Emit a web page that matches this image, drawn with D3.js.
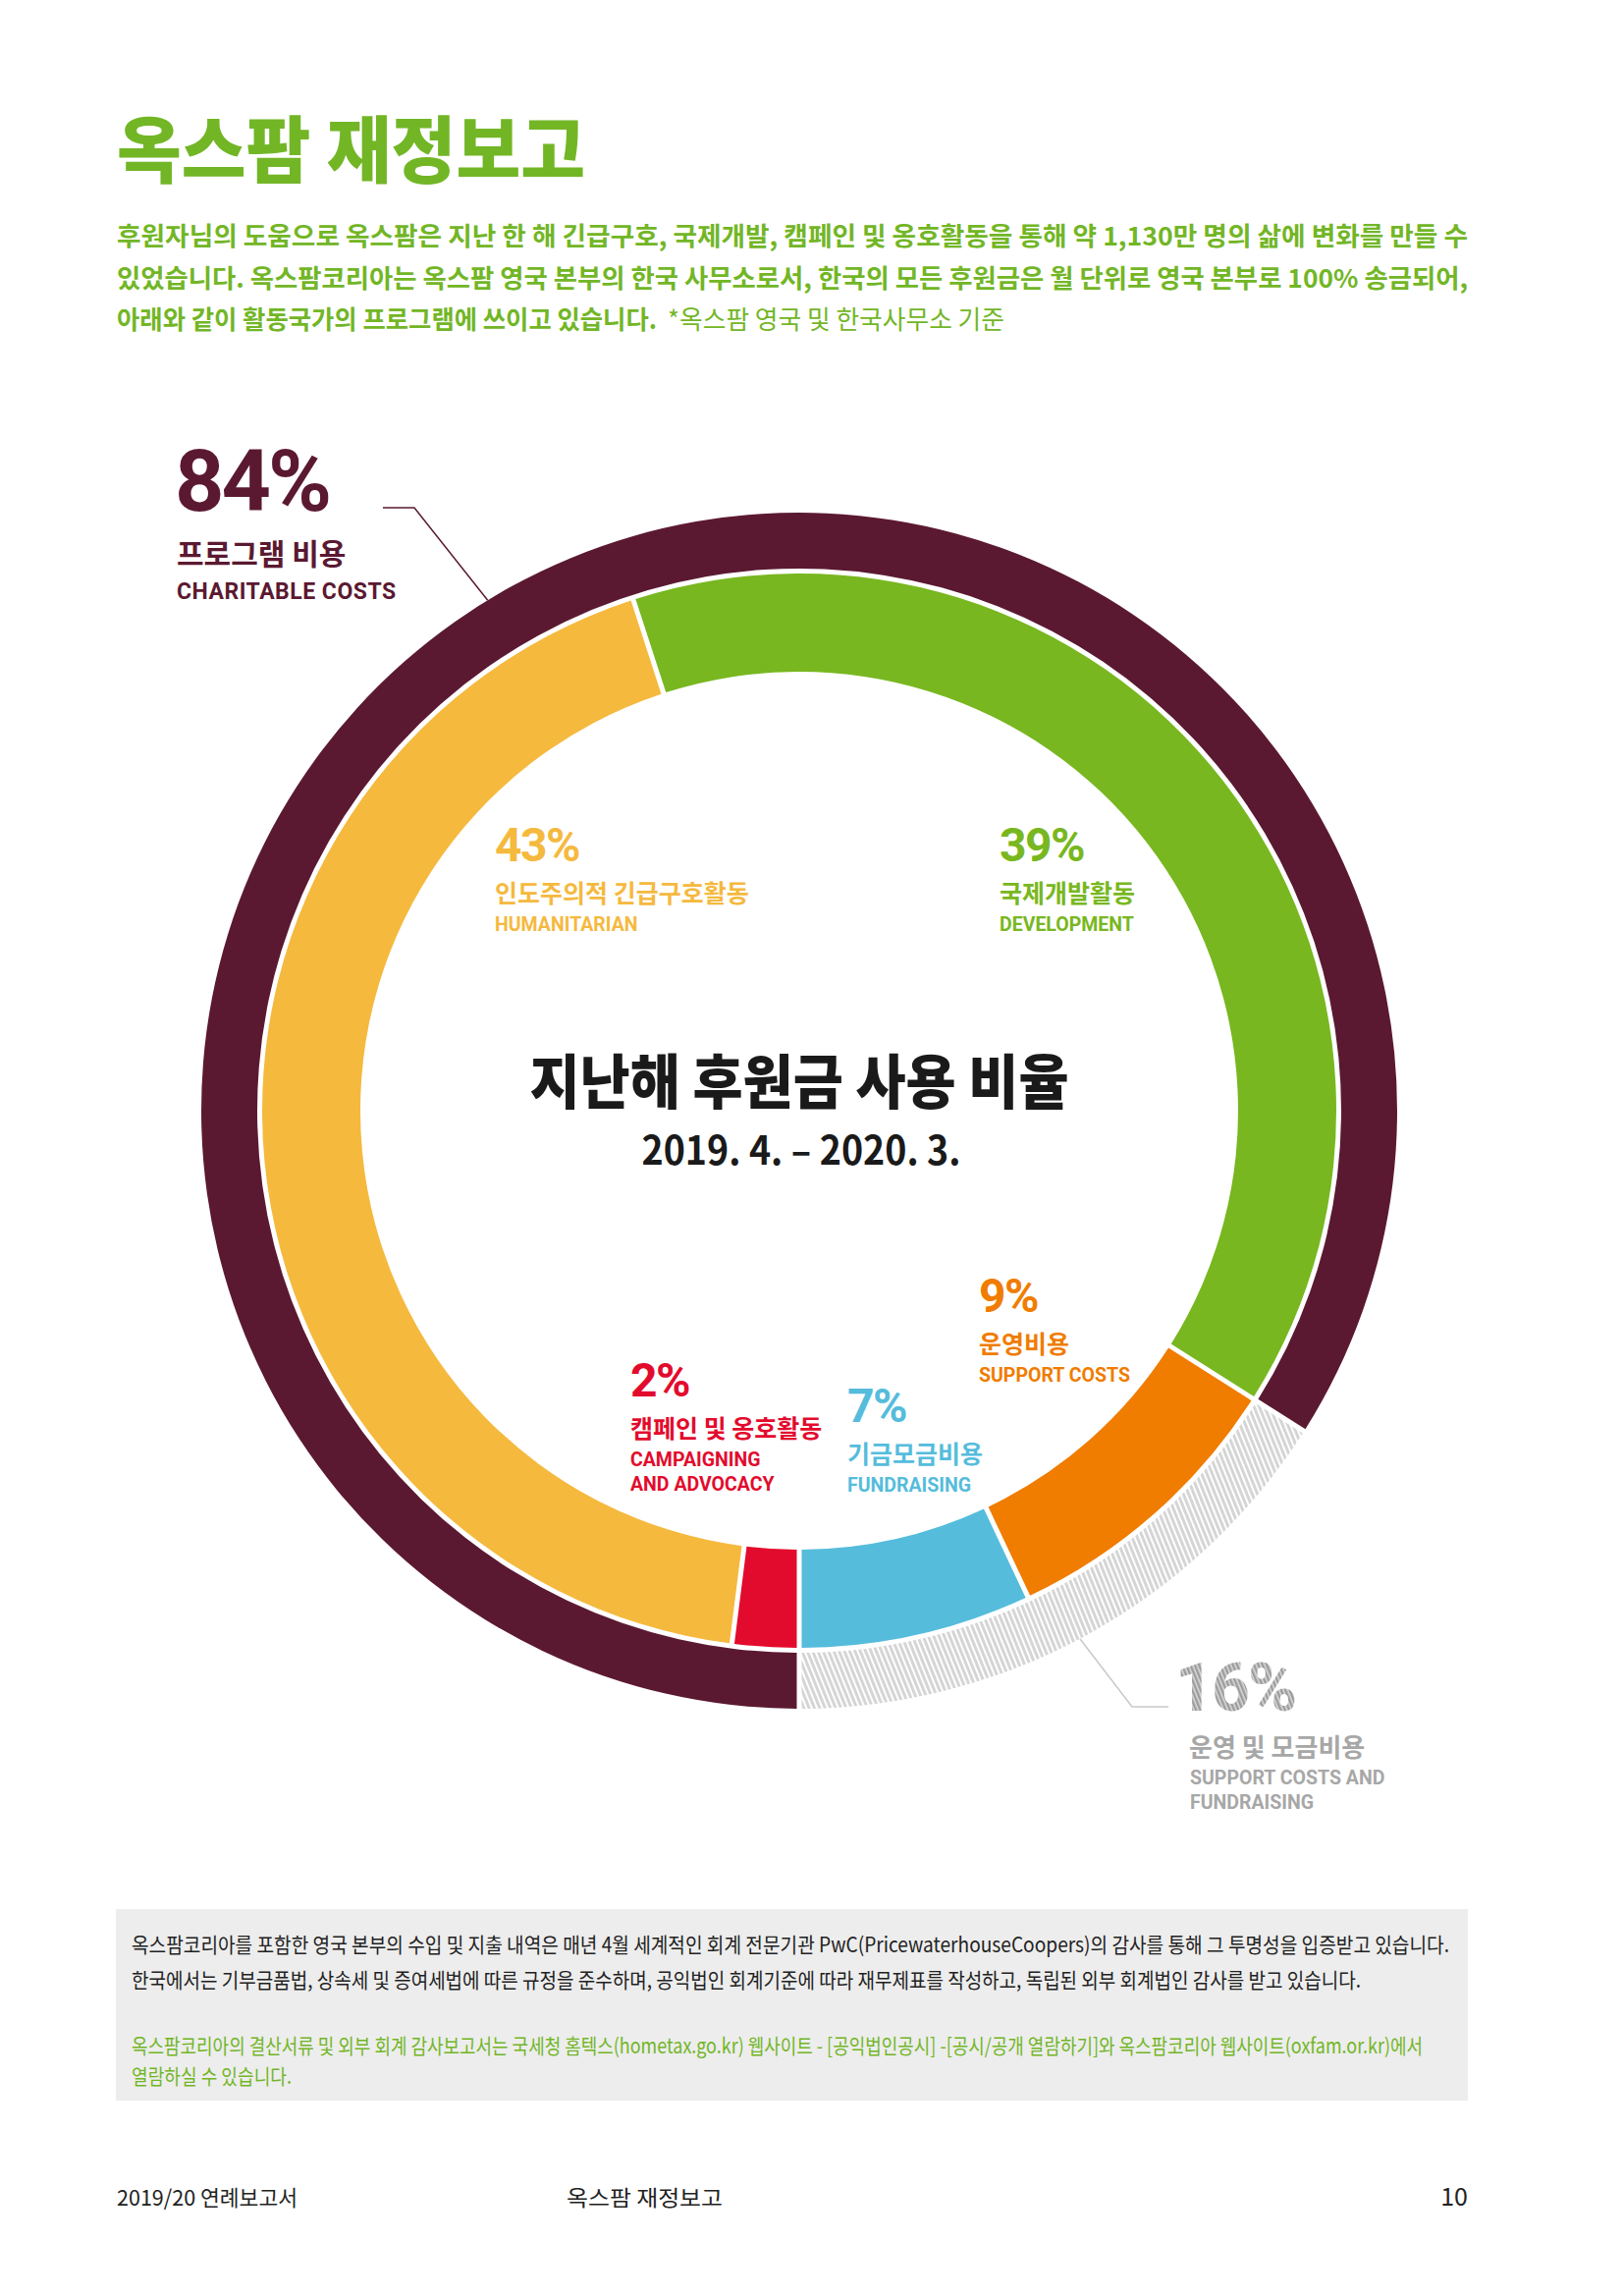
<!DOCTYPE html>
<html>
<head>
<meta charset="utf-8">
<script src="https://cdn.jsdelivr.net/npm/d3@7"></script>
<style>
  body { margin: 0; background: #fff; }
  svg { display: block; }
</style>
</head>
<body>
<svg id="chart"></svg>
<script>
// data
const outerLabels = ["프로그램 비용", "운영 및 모금비용"];
const outerEnglish = [["CHARITABLE COSTS"], ["SUPPORT COSTS AND", "FUNDRAISING"]];
const outerValues = [84, 16];

const innerLabels = ["캠페인 및 옹호활동", "인도주의적 긴급구호활동", "국제개발활동", "운영비용", "기금모금비용"];
const innerEnglish = [["CAMPAIGNING", "AND ADVOCACY"], ["HUMANITARIAN"], ["DEVELOPMENT"], ["SUPPORT COSTS"], ["FUNDRAISING"]];
const innerValues = [2, 43, 39, 9, 7];

const titleText = "옥스팜 재정보고";
const introLines = [
    "후원자님의 도움으로 옥스팜은 지난 한 해 긴급구호, 국제개발, 캠페인 및 옹호활동을 통해 약 1,130만 명의 삶에 변화를 만들 수",
    "있었습니다. 옥스팜코리아는 옥스팜 영국 본부의 한국 사무소로서, 한국의 모든 후원금은 월 단위로 영국 본부로 100% 송금되어,",
    "아래와 같이 활동국가의 프로그램에 쓰이고 있습니다."
];
const introNote = "*옥스팜 영국 및 한국사무소 기준";
const centerTitle = "지난해 후원금 사용 비율";
const centerPeriod = "2019. 4. – 2020. 3.";
const boxLines = [
    "옥스팜코리아를 포함한 영국 본부의 수입 및 지출 내역은 매년 4월 세계적인 회계 전문기관 PwC(PricewaterhouseCoopers)의 감사를 통해 그 투명성을 입증받고 있습니다.",
    "한국에서는 기부금품법, 상속세 및 증여세법에 따른 규정을 준수하며, 공익법인 회계기준에 따라 재무제표를 작성하고, 독립된 외부 회계법인 감사를 받고 있습니다.",
    "옥스팜코리아의 결산서류 및 외부 회계 감사보고서는 국세청 홈텍스(hometax.go.kr) 웹사이트 - [공익법인공시] -[공시/공개 열람하기]와 옥스팜코리아 웹사이트(oxfam.or.kr)에서",
    "열람하실 수 있습니다."
];
const footerLeft = "2019/20 연례보고서";
const footerMid = "옥스팜 재정보고";
const footerPage = "10";

// layout
const W = 1653, H = 2338;
const cx = 814, cy = 1131;
const green = "#72b626", maroon = "#5b1931", greyText = "#a7a7a7";
const outerColors = [maroon, "url(#hatch)"];
const innerColors = ["#e30b2d", "#f5b93e", "#78b720", "#f07c00", "#55bcdc"];
const KR = "'Noto Sans CJK KR', 'Noto Sans', sans-serif";
const EN = "Roboto, 'Noto Sans', sans-serif";

const svg = d3.select("#chart").attr("width", W).attr("height", H);

const defs = svg.append("defs");
const hatch = defs.append("pattern").attr("id", "hatch")
    .attr("patternUnits", "userSpaceOnUse").attr("width", 5).attr("height", 5)
    .attr("patternTransform", "rotate(-22)");
hatch.append("rect").attr("width", 5).attr("height", 5).attr("fill", "#fff");
hatch.append("rect").attr("width", 3).attr("height", 5).attr("fill", "#d5d5d5");

const hatchText = defs.append("pattern").attr("id", "hatchText")
    .attr("patternUnits", "userSpaceOnUse").attr("width", 4).attr("height", 4)
    .attr("patternTransform", "rotate(-22)");
hatchText.append("rect").attr("width", 4).attr("height", 4).attr("fill", "#d9d9d9");
hatchText.append("rect").attr("width", 2.4).attr("height", 4).attr("fill", "#9c9c9c");

// header
svg.append("text").attr("x", 119).attr("y", 180)
    .attr("font-family", KR).attr("font-weight", 900).attr("font-size", 74)
    .attr("fill", green).attr("textLength", 477).attr("lengthAdjust", "spacingAndGlyphs")
    .text(titleText);

const introY = [250, 293, 335];
const introW = [1376, 1376, 550];
introLines.forEach((line, i) => {
    svg.append("text").attr("x", 119).attr("y", introY[i])
        .attr("font-family", KR).attr("font-weight", 700).attr("font-size", 26)
        .attr("fill", green).attr("textLength", introW[i]).attr("lengthAdjust", "spacingAndGlyphs")
        .text(line);
});
svg.append("text").attr("x", 680).attr("y", introY[2])
    .attr("font-family", KR).attr("font-weight", 400).attr("font-size", 26)
    .attr("fill", green).attr("textLength", 343).attr("lengthAdjust", "spacingAndGlyphs")
    .text(introNote);

// rings
const pie = d3.pie().sort(null).startAngle(Math.PI).endAngle(3 * Math.PI);
const gap = 5;
const outerArc = d3.arc().innerRadius(552).outerRadius(609).padRadius(609).padAngle(gap / 609);
const innerArc = d3.arc().innerRadius(447).outerRadius(547).padRadius(547).padAngle(gap / 547);

const ring = svg.append("g").attr("transform", `translate(${cx},${cy})`);
ring.selectAll("path.outer").data(pie(outerValues)).join("path")
    .attr("class", "outer").attr("d", outerArc).attr("fill", (d, i) => outerColors[i]);
ring.selectAll("path.inner").data(pie(innerValues)).join("path")
    .attr("class", "inner").attr("d", innerArc).attr("fill", (d, i) => innerColors[i]);

// center title
svg.append("text").attr("x", cx).attr("y", 1124).attr("text-anchor", "middle")
    .attr("font-family", KR).attr("font-weight", 900).attr("font-size", 60)
    .attr("fill", "#1a1a1a").attr("textLength", 549).attr("lengthAdjust", "spacingAndGlyphs")
    .text(centerTitle);
svg.append("text").attr("x", cx + 2).attr("y", 1186).attr("text-anchor", "middle")
    .attr("font-family", KR).attr("font-weight", 700).attr("font-size", 40)
    .attr("fill", "#1a1a1a").attr("textLength", 325).attr("lengthAdjust", "spacingAndGlyphs")
    .text(centerPeriod);

// inner labels
const innerPos = [[642, 1422], [504, 877], [1018, 877], [997, 1336], [863, 1448]];
innerValues.forEach((v, i) => {
    const [x, y] = innerPos[i];
    const g = svg.append("g").attr("fill", innerColors[i]);
    g.append("text").attr("x", x).attr("y", y)
        .attr("font-family", EN).attr("font-weight", 700).attr("font-size", 48)
        .attr("letter-spacing", -1.5).text(v + "%");
    g.append("text").attr("x", x).attr("y", y + 42)
        .attr("font-family", KR).attr("font-weight", 700).attr("font-size", 25)
        .text(innerLabels[i]);
    innerEnglish[i].forEach((t, j) => {
        g.append("text").attr("x", x).attr("y", y + 71 + j * 25)
            .attr("font-family", EN).attr("font-weight", 700).attr("font-size", 19.5)
            .text(t);
    });
});

// outer labels with leaders
const leaderAngle = [-31.4, 152].map(a => a * Math.PI / 180);
const pts = leaderAngle.map(a => d3.pointRadial(a, 609)).map(([x, y]) => [x + cx, y + cy]);
const line = d3.line();
svg.append("path").attr("d", line([[390, 517], [422, 517], pts[0]]))
    .attr("fill", "none").attr("stroke", maroon).attr("stroke-width", 1.5);
svg.append("path").attr("d", line([pts[1], [1153, 1738], [1190, 1738]]))
    .attr("fill", "none").attr("stroke", "#c9c9c9").attr("stroke-width", 1.5);

const g84 = svg.append("g").attr("fill", maroon);
g84.append("text").attr("x", 178).attr("y", 520)
    .attr("font-family", EN).attr("font-weight", 700).attr("font-size", 88)
    .attr("letter-spacing", -3).text(outerValues[0] + "%");
g84.append("text").attr("x", 180).attr("y", 575)
    .attr("font-family", KR).attr("font-weight", 700).attr("font-size", 30)
    .text(outerLabels[0]);
g84.append("text").attr("x", 180).attr("y", 610)
    .attr("font-family", EN).attr("font-weight", 700).attr("font-size", 23)
    .attr("letter-spacing", 0.5).text(outerEnglish[0][0]);

const g16 = svg.append("g").attr("fill", greyText);
g16.append("text").attr("x", 1197).attr("y", 1742)
    .attr("font-family", EN).attr("font-weight", 700).attr("font-size", 68)
    .attr("letter-spacing", -2).attr("fill", "url(#hatchText)").text(outerValues[1] + "%");
g16.append("text").attr("x", 1211).attr("y", 1789)
    .attr("font-family", KR).attr("font-weight", 700).attr("font-size", 26)
    .text(outerLabels[1]);
outerEnglish[1].forEach((t, j) => {
    g16.append("text").attr("x", 1212).attr("y", 1817 + j * 25)
        .attr("font-family", EN).attr("font-weight", 700).attr("font-size", 19.5)
        .text(t);
});

// note box
svg.append("rect").attr("x", 118).attr("y", 1944).attr("width", 1377).attr("height", 195)
    .attr("fill", "#ededed");
const boxY = [1988, 2024, 2091, 2122];
const boxW = [1342, 1252, 1315, 163];
boxLines.forEach((t, i) => {
    svg.append("text").attr("x", 134).attr("y", boxY[i])
        .attr("font-family", KR).attr("font-weight", 400).attr("font-size", 21)
        .attr("fill", i < 2 ? "#222" : green)
        .attr("textLength", boxW[i]).attr("lengthAdjust", "spacingAndGlyphs")
        .text(t);
});

// footer
const foot = svg.append("g").attr("font-family", KR).attr("font-size", 22).attr("fill", "#222");
foot.append("text").attr("x", 119).attr("y", 2246).attr("textLength", 184)
    .attr("lengthAdjust", "spacingAndGlyphs").text(footerLeft);
foot.append("text").attr("x", 577).attr("y", 2246).attr("textLength", 159)
    .attr("lengthAdjust", "spacingAndGlyphs").text(footerMid);
foot.append("text").attr("x", 1495).attr("y", 2246).attr("text-anchor", "end")
    .attr("font-size", 25).text(footerPage);
</script>
</body>
</html>
